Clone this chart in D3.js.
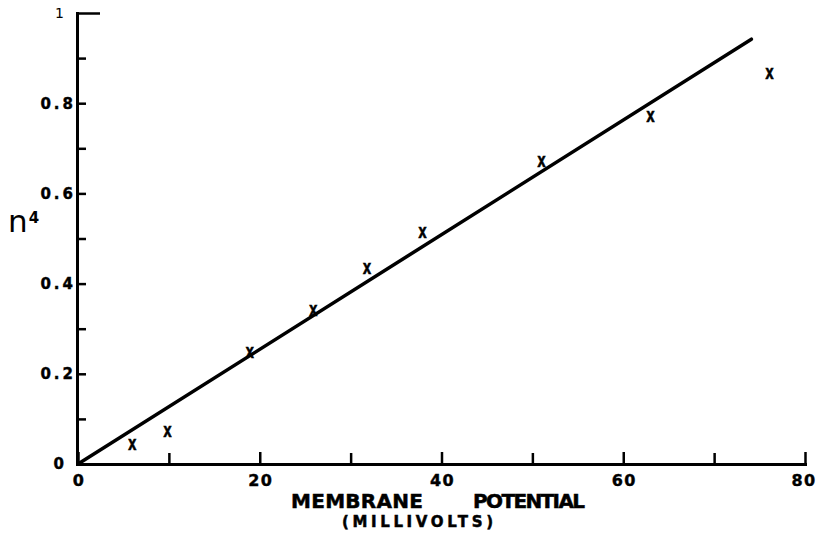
<!DOCTYPE html>
<html>
<head>
<meta charset="utf-8">
<script src="https://cdn.jsdelivr.net/npm/d3@7/dist/d3.min.js"></script>
<style>
  html, body { margin: 0; padding: 0; background: #fff; }
  svg { display: block; }
</style>
</head>
<body>
<svg id="chart" width="818" height="550"></svg>
<script>
// ---- data ----
const potential = [5.98, 9.84, 18.9, 25.9, 31.8, 37.9, 51.0, 63.0, 76.1];   // mV
const n4 = [0.044, 0.073, 0.248, 0.341, 0.433, 0.514, 0.671, 0.771, 0.865];
const fitPotential = [0, 74.1];
const fitN4 = [0, 0.942];
const xMajorTicks = [0, 20, 40, 60, 80];
const xMinorTicks = [10, 30, 50, 70];
const yMajorTicks = [0, 0.2, 0.4, 0.6, 0.8];
const yMinorTicks = [0.1, 0.3, 0.5, 0.7, 0.9];
const yTopTick = [1];
const xTitleWords = ["MEMBRANE", "POTENTIAL"];
const xSubTitle = "(MILLIVOLTS)";

const svg = d3.select("#chart");
const x = d3.scaleLinear().domain([0, 80]).range([78, 805]);
const y = d3.scaleLinear().domain([0, 1]).range([464, 13]);

const tickFont = "DejaVu Sans, sans-serif";

function styleAxis(g) {
  g.attr("font-family", tickFont).attr("font-weight", "bold");
  g.select(".domain").attr("stroke", "#000").attr("stroke-width", 3).attr("stroke-linecap", "square");
  g.selectAll(".tick line").attr("stroke", "#000").attr("stroke-width", 2.5);
  g.selectAll(".tick text").attr("fill", "#000")
    .attr("stroke", "#000").attr("stroke-width", 0.4);
}

// x axis (ticks point upward into the plot)
const gx = svg.append("g").attr("transform", "translate(0,464)")
  .call(d3.axisBottom(x).tickValues(xMajorTicks).tickSize(-12).tickSizeOuter(0)
        .tickPadding(11).tickFormat(d3.format("d")));
styleAxis(gx);
gx.attr("font-size", 16);
gx.selectAll(".tick text").attr("letter-spacing", 1.5).attr("dx", 0.5);
gx.selectAll(".tick text").filter(d => d === 80).attr("dx", -1.5);
const gxm = svg.append("g").attr("transform", "translate(0,464)")
  .call(d3.axisBottom(x).tickValues(xMinorTicks).tickSize(-11).tickSizeOuter(0).tickFormat(""));
styleAxis(gxm);
gxm.select(".domain").remove();

// y axis (ticks point right into the plot)
const gy = svg.append("g").attr("transform", "translate(77,0)")
  .call(d3.axisLeft(y).tickValues(yMajorTicks).tickSize(-9).tickSizeOuter(0)
        .tickPadding(1).tickFormat(d => d === 0 ? "0" : d3.format(".1f")(d)));
styleAxis(gy);
gy.attr("font-size", 15);
gy.selectAll(".tick text").attr("letter-spacing", 3);
gy.selectAll(".tick text").filter(d => d === 0).attr("dx", -9);
const gym = svg.append("g").attr("transform", "translate(77,0)")
  .call(d3.axisLeft(y).tickValues(yMinorTicks).tickSize(-9).tickSizeOuter(0).tickFormat(""));
styleAxis(gym);
gym.select(".domain").remove();
const gyt = svg.append("g").attr("transform", "translate(77,0)")
  .call(d3.axisLeft(y).tickValues(yTopTick).tickSize(-23).tickSizeOuter(0)
        .tickPadding(13).tickFormat(d3.format("d")));
styleAxis(gyt);
gyt.select(".domain").remove();
gyt.attr("font-size", 14).attr("font-weight", "normal");
gyt.selectAll(".tick text").attr("stroke-width", 0);

// y axis label n^4
const yl = svg.append("text")
  .attr("x", 8).attr("y", 232)
  .attr("fill", "#000")
  .attr("font-family", tickFont);
yl.append("tspan").text("n").attr("font-size", 31);
yl.append("tspan").text("4").attr("dy", -9).attr("dx", 1).attr("font-size", 15).attr("font-weight", "bold");

// x axis titles
function title(txt, x0, y0, len, size) {
  svg.append("text")
    .attr("x", x0).attr("y", y0)
    .attr("textLength", len).attr("lengthAdjust", "spacing")
    .attr("fill", "#000").attr("stroke", "#000").attr("stroke-width", 0.5)
    .attr("font-family", tickFont).attr("font-weight", "bold").attr("font-size", size)
    .text(txt);
}
title(xTitleWords[0], 291, 508, 132, 20);
title(xTitleWords[1], 473, 508, 112, 20);
title(xSubTitle, 342, 527, 151, 15);

// fitted straight line
const fitData = fitPotential.map((v, i) => [v, fitN4[i]]);
svg.append("path")
  .datum(fitData)
  .attr("fill", "none")
  .attr("stroke", "#000")
  .attr("stroke-width", 3.5)
  .attr("stroke-linecap", "round")
  .attr("d", d3.line().x(d => x(d[0])).y(d => y(d[1])));

// data points drawn as typed "x" marks
const pts = potential.map((v, i) => ({ v, n: n4[i] }));
svg.append("g").selectAll("text")
  .data(pts)
  .join("text")
  .attr("transform", d => `translate(${x(d.v)},${y(d.n) + 5.5}) scale(0.85,1.2)`)
  .attr("text-anchor", "middle")
  .attr("fill", "#000")
  .attr("stroke", "#000")
  .attr("stroke-width", 0.6)
  .attr("font-family", "Liberation Sans, sans-serif")
  .attr("font-weight", "bold")
  .attr("font-size", 17)
  .text("x");
</script>
</body>
</html>
